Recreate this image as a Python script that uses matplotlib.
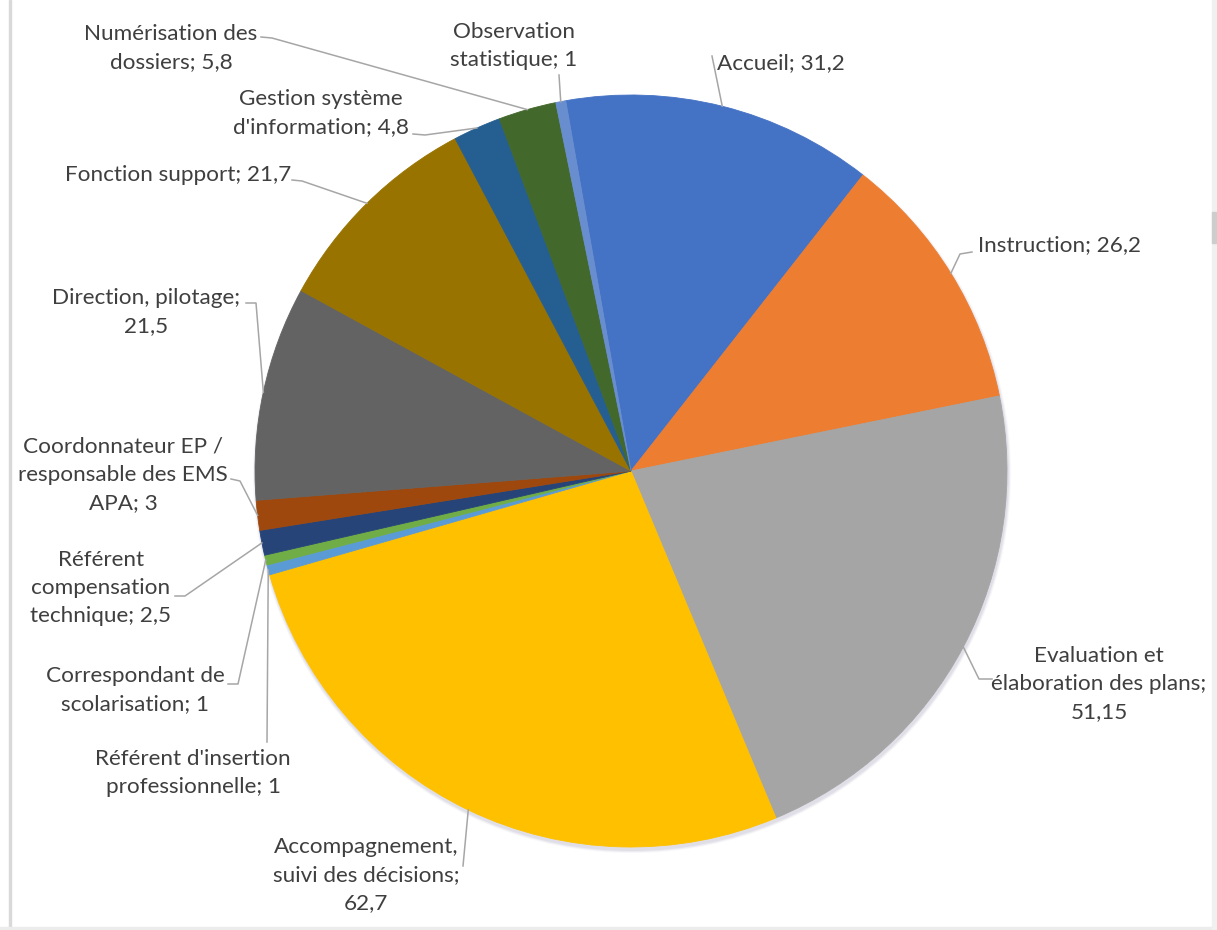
import matplotlib.pyplot as plt
from matplotlib.patches import Rectangle, Circle
import numpy as np

# --- Données : répartition des ETP par mission ---

categories = [
    "Accueil",
    "Instruction",
    "Evaluation et\nélaboration des plans",
    "Accompagnement,\nsuivi des décisions",
    "Référent d'insertion\nprofessionnelle",
    "Correspondant de\nscolarisation",
    "Référent\ncompensation\ntechnique",
    "Coordonnateur EP /\nresponsable des EMS\nAPA",
    "Direction, pilotage",
    "Fonction support",
    "Gestion système\nd'information",
    "Numérisation des\ndossiers",
    "Observation\nstatistique",
]
etp = [31.2, 26.2, 51.15, 62.7, 1, 1, 2.5, 3, 21.5, 21.7, 4.8, 5.8, 1]
# la valeur passe à la ligne pour certaines étiquettes
value_newline = [False, False, True, True, False, False, False, False,
                 True, False, False, False, False]

colors = ["#4472C4", "#ED7D31", "#A5A5A5", "#FFC000", "#5B9BD5", "#70AD47",
          "#264478", "#9E480E", "#636363", "#997300", "#255E91", "#43682B",
          "#698ED0"]

# --- Mise en page (pixels, origine en haut à gauche) ---

W, H = 1217, 930
PIE_X, PIE_Y, PIE_R = 631, 471, 376

label_xy = [(781, 63), (1060, 245), (1099, 684), (366, 875), (193, 773),
            (135, 690), (101, 588), (123, 475), (146, 312), (178, 175),
            (321, 113), (171, 48), (514, 46)]
leader_start = [(712, 56), (972, 252), (992, 679), (463, 866), (267, 742),
                (228, 684), (175, 596), (231, 479), (246, 303), (292, 180),
                (413, 134), (261, 37), (559, 75)]
leader_elbow = [None, (960, 254), (979, 679), None, None,
                (238, 684), (185, 596), (240, 481), (256, 303), (302, 181),
                (425, 135), (272, 38), None]


def fr(v):
    return f"{v:g}".replace(".", ",")


fig = plt.figure(figsize=(W / 100, H / 100), dpi=100)
ax = fig.add_axes([0, 0, 1, 1])

cx, cy = PIE_X, H - PIE_Y

# ombre légère sous le camembert
for k, a in enumerate([0.10, 0.16, 0.22]):
    ax.add_patch(Circle((cx + 1, cy - 3), PIE_R + 3 - k, color="#b8b4c8",
                        alpha=a, lw=0, zorder=0))

wedges, _ = ax.pie(etp, colors=colors, startangle=100, counterclock=False,
                   radius=PIE_R, center=(cx, cy))
for w, c in zip(wedges, colors):
    w.set_edgecolor(c)
    w.set_linewidth(0.6)
    w.set_zorder(1)

for i, w in enumerate(wedges):
    sep = ";\n" if value_newline[i] else "; "
    txt = categories[i] + sep + fr(etp[i])
    x, y = label_xy[i]
    ax.text(x, H - y, txt, ha="center", va="center", fontsize=16.2,
            family="Lato", color="#3f3f3f", linespacing=1.5, zorder=3)

    # ligne de rappel vers le bord de la part
    mid = np.deg2rad((w.theta1 + w.theta2) / 2)
    ex = cx + PIE_R * np.cos(mid)
    ey = cy + PIE_R * np.sin(mid)
    pts = [leader_start[i]]
    if leader_elbow[i] is not None:
        pts.append(leader_elbow[i])
    xs = [p[0] for p in pts] + [ex]
    ys = [H - p[1] for p in pts] + [ey]
    ax.plot(xs, ys, color="#A6A6A6", lw=1.1, zorder=2)

ax.set_xlim(0, W)
ax.set_ylim(0, H)
ax.set_aspect("equal")
ax.axis("off")

# bordures de la fenêtre
fig.patches.append(Rectangle((9 / W, 3 / H), 2 / W, 1 - 3 / H,
                             transform=fig.transFigure, color="#d9d9d9", zorder=5))
fig.patches.append(Rectangle((0, 0), 1, 3 / H, transform=fig.transFigure,
                             color="#ececec", zorder=5))
fig.patches.append(Rectangle((1212 / W, 0), 5 / W, 1, transform=fig.transFigure,
                             color="#f0f0f0", zorder=5))
fig.patches.append(Rectangle((1212 / W, 1 - 243 / H), 5 / W, 31 / H,
                             transform=fig.transFigure, color="#cdcdcd", zorder=6))

fig.savefig("out.png", dpi=100)
